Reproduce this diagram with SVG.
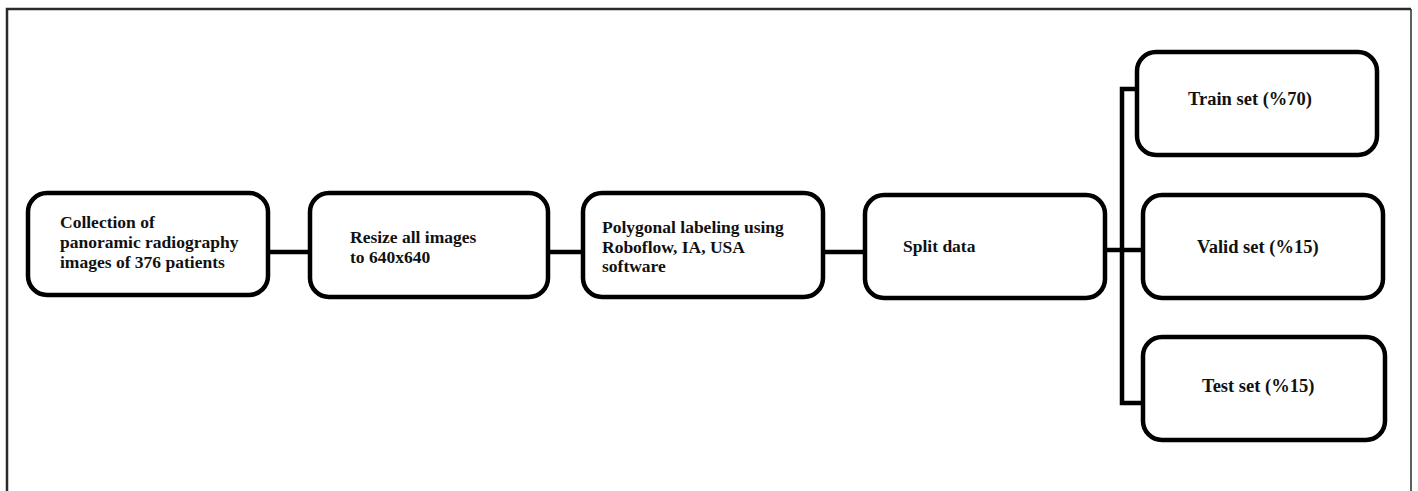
<svg xmlns="http://www.w3.org/2000/svg" width="1418" height="491" viewBox="0 0 1418 491">
<style>
.box{fill:#fff;stroke:#000;stroke-width:4.5}
.t{font-family:"Liberation Serif","Times New Roman",serif;font-weight:bold;font-size:17.5px;fill:#111}
.r{font-size:18.5px}
.c{fill:none;stroke:#000;stroke-width:4.5}
</style>
<rect width="1418" height="491" fill="#fff"/>
<g id="frame">
<path d="M7,491 V9 H1411" fill="none" stroke="#2a2a2a" stroke-width="2.5"/>
<path d="M1411,9 V491" fill="none" stroke="#2a2a2a" stroke-width="1.5"/>
</g>
<g id="connectors">
<path class="c" d="M268,252 H310"/>
<path class="c" d="M548,252 H583"/>
<path class="c" d="M823,252 H865"/>
<path class="c" d="M1105,250 H1122"/>
<path class="c" d="M1137,89 H1122 V403 H1143"/>
<path class="c" d="M1122,250 H1143"/>
</g>
<g id="n1">
<rect class="box" x="28" y="193" width="240" height="102" rx="19"/>
<text class="t" x="60" y="228">Collection of</text>
<text class="t" x="60" y="248">panoramic radiography</text>
<text class="t" x="60" y="268">images of 376 patients</text>
</g>
<g id="n2">
<rect class="box" x="310" y="193" width="238" height="104" rx="19"/>
<text class="t" x="350" y="243">Resize all images</text>
<text class="t" x="350" y="263">to 640x640</text>
</g>
<g id="n3">
<rect class="box" x="583" y="193" width="240" height="104" rx="19"/>
<text class="t" x="602" y="233">Polygonal labeling using</text>
<text class="t" x="602" y="253">Roboflow, IA, USA</text>
<text class="t" x="602" y="272">software</text>
</g>
<g id="n4">
<rect class="box" x="865" y="195" width="240" height="103" rx="19"/>
<text class="t" x="903" y="252">Split data</text>
</g>
<g id="n5">
<rect class="box" x="1137" y="52" width="240" height="103" rx="19"/>
<text class="t r" x="1188" y="105">Train set (%70)</text>
</g>
<g id="n6">
<rect class="box" x="1143" y="195" width="240" height="103" rx="19"/>
<text class="t r" x="1197" y="253">Valid set (%15)</text>
</g>
<g id="n7">
<rect class="box" x="1143" y="337" width="242" height="103" rx="19"/>
<text class="t r" x="1202" y="392">Test set (%15)</text>
</g>
</svg>
